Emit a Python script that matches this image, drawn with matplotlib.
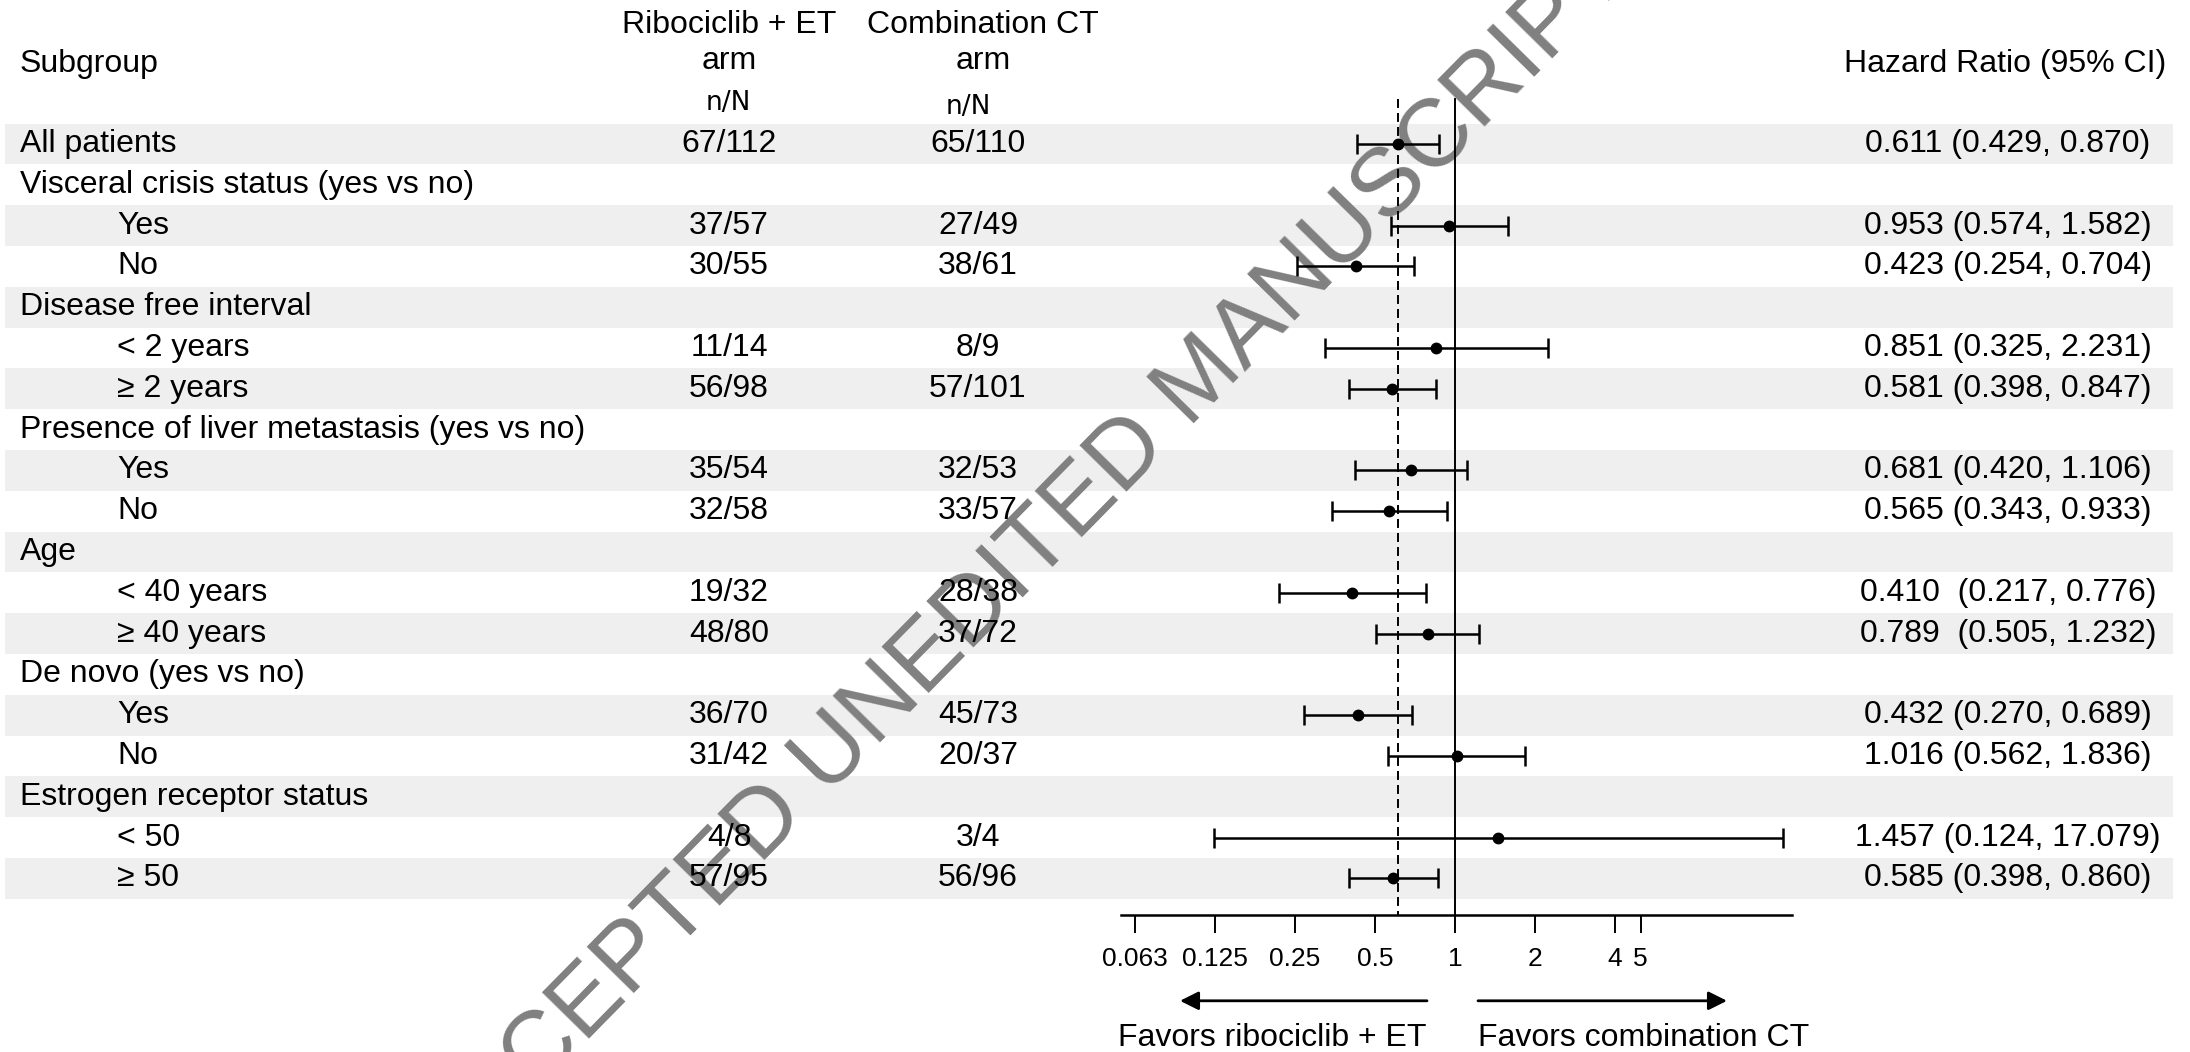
import numpy as np
import matplotlib.pyplot as plt

plt.rcParams['font.family'] = ['Liberation Sans', 'DejaVu Sans']

# Subgroup rows (headings have no estimate)
labels = ["All patients", "Visceral crisis status (yes vs no)", "Yes", "No",
          "Disease free interval", "< 2 years", "≥ 2 years",
          "Presence of liver metastasis (yes vs no)", "Yes", "No",
          "Age", "< 40 years", "≥ 40 years",
          "De novo (yes vs no)", "Yes", "No",
          "Estrogen receptor status", "< 50", "≥ 50"]
indented = [0, 0, 1, 1, 0, 1, 1, 0, 1, 1, 0, 1, 1, 0, 1, 1, 0, 1, 1]
rib_et = ["67/112", "", "37/57", "30/55", "", "11/14", "56/98", "", "35/54", "32/58",
          "", "19/32", "48/80", "", "36/70", "31/42", "", "4/8", "57/95"]
comb_ct = ["65/110", "", "27/49", "38/61", "", "8/9", "57/101", "", "32/53", "33/57",
           "", "28/38", "37/72", "", "45/73", "20/37", "", "3/4", "56/96"]
nan = np.nan
hr = [0.611, nan, 0.953, 0.423, nan, 0.851, 0.581, nan, 0.681, 0.565,
      nan, 0.410, 0.789, nan, 0.432, 1.016, nan, 1.457, 0.585]
ci_low = [0.429, nan, 0.574, 0.254, nan, 0.325, 0.398, nan, 0.420, 0.343,
          nan, 0.217, 0.505, nan, 0.270, 0.562, nan, 0.124, 0.398]
ci_high = [0.870, nan, 1.582, 0.704, nan, 2.231, 0.847, nan, 1.106, 0.933,
           nan, 0.776, 1.232, nan, 0.689, 1.836, nan, 17.079, 0.860]
hr_text = ["0.611 (0.429, 0.870)", "", "0.953 (0.574, 1.582)", "0.423 (0.254, 0.704)", "",
           "0.851 (0.325, 2.231)", "0.581 (0.398, 0.847)", "",
           "0.681 (0.420, 1.106)", "0.565 (0.343, 0.933)", "",
           "0.410  (0.217, 0.776)", "0.789  (0.505, 1.232)", "",
           "0.432 (0.270, 0.689)", "1.016 (0.562, 1.836)", "",
           "1.457 (0.124, 17.079)", "0.585 (0.398, 0.860)"]
tick_vals = [0.0625, 0.125, 0.25, 0.5, 1, 2, 4, 5]
tick_labels = ["0.063", "0.125", "0.25", "0.5", "1", "2", "4", "5"]

hr = np.array(hr)
ci_low = np.array(ci_low)
ci_high = np.array(ci_high)
rows = np.arange(len(labels))

FS = 23
ylim = (22.255, -3.529)   # row units, top of figure is -3.5

fig = plt.figure(figsize=(21.9, 10.52), dpi=100)

# background axes: x in pixels, y in rows
ax = fig.add_axes([0, 0, 1, 1])
ax.set_xlim(0, 2190)
ax.set_ylim(*ylim)
ax.axis('off')

for i in rows[::2]:
    ax.fill_between([5, 2173], i - 0.5, i + 0.5, color='#efefef', lw=0, zorder=0)

# watermark
ax.text(1020, 10.32, "ACCEPTED UNEDITED MANUSCRIPT", rotation=45.5, rotation_mode='anchor',
        ha='center', va='center', fontsize=69, color='#808080', zorder=0.5)

# headers
ax.text(20, -1.96, "Subgroup", fontsize=FS, va='center', ha='left')
ax.text(729, -2.48, "Ribociclib + ET\narm", fontsize=FS, va='center', ha='center',
        linespacing=1.25)
ax.text(983, -2.48, "Combination CT\narm", fontsize=FS, va='center', ha='center',
        linespacing=1.25)
ax.text(728, -1.0, "n/N", fontsize=19, va='center', ha='center', family='DejaVu Sans')
ax.text(968, -0.91, "n/N", fontsize=19, va='center', ha='center', family='DejaVu Sans')
ax.text(2005, -1.96, "Hazard Ratio (95% CI)", fontsize=FS, va='center', ha='center')

for i in rows:
    ax.text(117 if indented[i] else 20, i, labels[i], fontsize=FS, va='center', ha='left', zorder=3)
    ax.text(729, i, rib_et[i], fontsize=FS, va='center', ha='center', zorder=3)
    ax.text(978, i, comb_ct[i], fontsize=FS, va='center', ha='center', zorder=3)
    ax.text(2008, i, hr_text[i], fontsize=FS, va='center', ha='center', zorder=3)

ax.text(1427, 21.9, "Favors ribociclib + ET", fontsize=FS, va='center', ha='right')
ax.text(1478, 21.9, "Favors combination CT", fontsize=FS, va='center', ha='left')

# forest axes: 1 sits at pixel 1455, 80 px per doubling
fx = fig.add_axes([1100 / 2190, 0, 720 / 2190, 1])
fx.set_xscale('log', base=2)
fx.set_xlim(2 ** ((1100 - 1455) / 80), 2 ** ((1820 - 1455) / 80))
fx.set_ylim(*ylim)
fx.patch.set_alpha(0)
for s in ['top', 'left', 'right']:
    fx.spines[s].set_visible(False)
axis_row = 18.9
fx.spines['bottom'].set_position(('data', axis_row))
fx.spines['bottom'].set_bounds(2 ** -4.17, 2 ** 4.21)
fx.spines['bottom'].set_linewidth(1.8)
fx.yaxis.set_visible(False)
fx.set_xticks(tick_vals)
fx.set_xticklabels(tick_labels)
fx.minorticks_off()
fx.tick_params(axis='x', direction='out', length=13, width=1.4, labelsize=19, pad=10)

fx.plot([1, 1], [-1.1, axis_row], color='k', lw=1.4)
fx.plot([hr[0], hr[0]], [-1.1, axis_row], color='k', lw=1.4, ls=(0, (4.6, 2.6)))

ok = ~np.isnan(hr)
fx.errorbar(hr[ok], rows[ok], xerr=[hr[ok] - ci_low[ok], ci_high[ok] - hr[ok]],
            fmt='o', color='k', ms=7.5, elinewidth=1.8, capsize=7.2, capthick=1.8, zorder=4)

fx.annotate('', xy=(2 ** ((1180 - 1455) / 80), 21.0), xytext=(2 ** ((1427 - 1455) / 80), 21.0),
            arrowprops=dict(arrowstyle='-|>', color='k', lw=2, mutation_scale=28,
                            shrinkA=0, shrinkB=0))
fx.annotate('', xy=(2 ** ((1727 - 1455) / 80), 21.0), xytext=(2 ** ((1478 - 1455) / 80), 21.0),
            arrowprops=dict(arrowstyle='-|>', color='k', lw=2, mutation_scale=28,
                            shrinkA=0, shrinkB=0))

fig.savefig("out.png", dpi=100)
